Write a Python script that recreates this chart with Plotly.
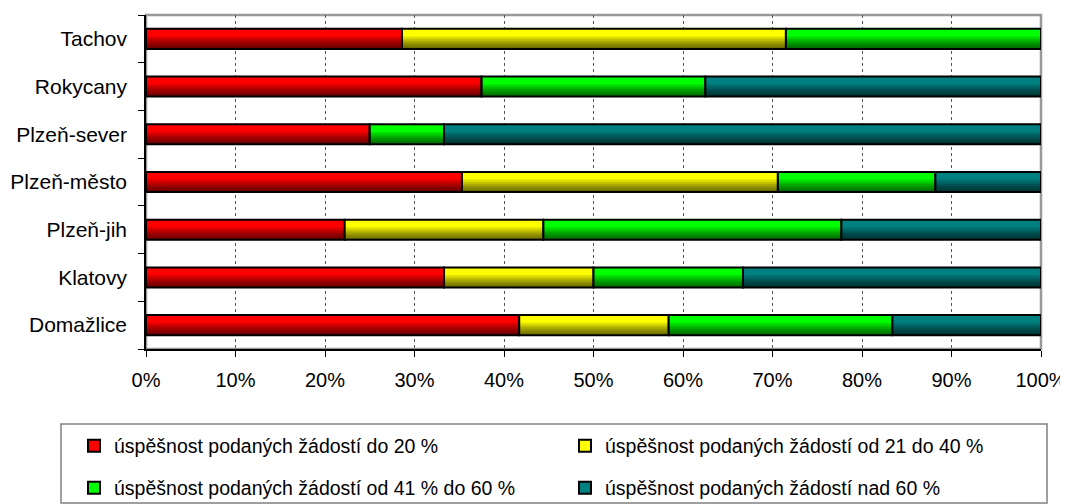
import plotly.graph_objects as go
import numpy as np

categories = ["Domažlice", "Klatovy", "Plzeň-jih", "Plzeň-město", "Plzeň-sever", "Rokycany", "Tachov"]
series_names = [
    "úspěšnost podaných žádostí do 20 %",
    "úspěšnost podaných žádostí od 21 do 40 %",
    "úspěšnost podaných žádostí od 41 % do 60 %",
    "úspěšnost podaných žádostí nad 60 %",
]
red_vals = [41.7, 33.3, 22.2, 35.3, 25.0, 37.5, 28.6]
yellow_vals = [16.7, 16.7, 22.2, 35.3, 0.0, 0.0, 42.9]
green_vals = [25.0, 16.7, 33.3, 17.6, 8.3, 25.0, 28.5]
teal_vals = [16.6, 33.3, 22.3, 11.8, 66.7, 37.5, 0.0]
x_ticks = [0, 10, 20, 30, 40, 50, 60, 70, 80, 90, 100]
x_tick_labels = ["0%", "10%", "20%", "30%", "40%", "50%", "60%", "70%", "80%", "90%", "100%"]

colors = ["#ff0000", "#ffff00", "#00ff00", "#008080"]
series = [red_vals, yellow_vals, green_vals, teal_vals]
legend_ids = ["legend", "legend2", "legend3", "legend4"]

# screen geometry (page has an 8px body margin)
OFF = 8
SW, SH = 1068, 504
W, H = SW - OFF, SH - OFF
plot_left, plot_right, plot_top, plot_bottom = 146, 1041, 15, 349
L, R = plot_left - OFF, SW - plot_right
T, B = plot_top - OFF, SH - plot_bottom
PW, PH = W - L - R, H - T - B

# legend entry positions in screen pixels (left of legend, row centre)
legend_pos = [(74, 446), (565, 446), (74, 488), (565, 488)]


def px_x(p):
    return (p - plot_left) / PW


def px_y(p):
    return (plot_bottom - p) / PH


BW = 0.42
fig = go.Figure()
base = np.zeros(len(categories))
shade_fracs = [0.62, 0.5, 0.4, 0.3, 0.2, 0.1]
for name, vals, col, lg in zip(series_names, series, colors, legend_ids):
    vals = np.array(vals)
    fig.add_trace(go.Bar(
        y=categories, x=vals, base=base, orientation="h", name=name,
        width=BW, marker=dict(color=col, line=dict(color="black", width=2)),
        legend=lg, hoverinfo="skip",
    ))
    for f in shade_fracs:
        fig.add_trace(go.Bar(
            y=categories, x=vals, base=base, orientation="h",
            width=BW * f, offset=-BW / 2,
            marker=dict(color="rgba(0,0,0,0.13)", line=dict(width=0)),
            showlegend=False, hoverinfo="skip",
        ))
    base = base + vals

font = "Liberation Sans, Arial, sans-serif"
legend_layout = {}
for lg, (lx, ly) in zip(legend_ids, legend_pos):
    legend_layout[lg] = dict(
        xref="container", yref="container",
        x=(lx - OFF) / W, xanchor="left", y=1 - (ly - OFF) / H, yanchor="middle",
        font=dict(size=19.5), bgcolor="rgba(0,0,0,0)", borderwidth=0,
    )

fig.update_layout(
    width=W, height=H,
    margin=dict(l=L, r=R, t=T, b=B, pad=0, autoexpand=False),
    barmode="overlay",
    plot_bgcolor="white", paper_bgcolor="white",
    font=dict(family=font, size=20, color="black"),
    showlegend=True,
    **legend_layout,
    xaxis=dict(
        range=[0, 100], tickvals=x_ticks, ticktext=x_tick_labels,
        showgrid=True, gridcolor="#555555", griddash="dot", gridwidth=1,
        ticks="outside", ticklen=6, tickcolor="black",
        showline=True, linecolor="black", linewidth=1.5,
        tickfont=dict(size=20), zeroline=False, fixedrange=True,
        ticklabelstandoff=6,
    ),
    yaxis=dict(
        categoryorder="array", categoryarray=categories,
        ticks="outside", ticklen=6, tickcolor="black", tickson="boundaries",
        showline=True, linecolor="black", linewidth=1.5,
        showgrid=False, tickfont=dict(size=21), ticklabelstandoff=13,
        fixedrange=True,
    ),
    shapes=[
        dict(type="rect", xref="paper", yref="paper", x0=0, x1=1, y0=0, y1=1,
             line=dict(color="#999999", width=2.5), layer="below"),
        dict(type="rect", xref="paper", yref="paper",
             x0=px_x(61), x1=px_x(1047), y0=px_y(424), y1=px_y(503),
             line=dict(color="#808080", width=1.5), layer="above"),
    ],
)

fig.write_html("out.html")
